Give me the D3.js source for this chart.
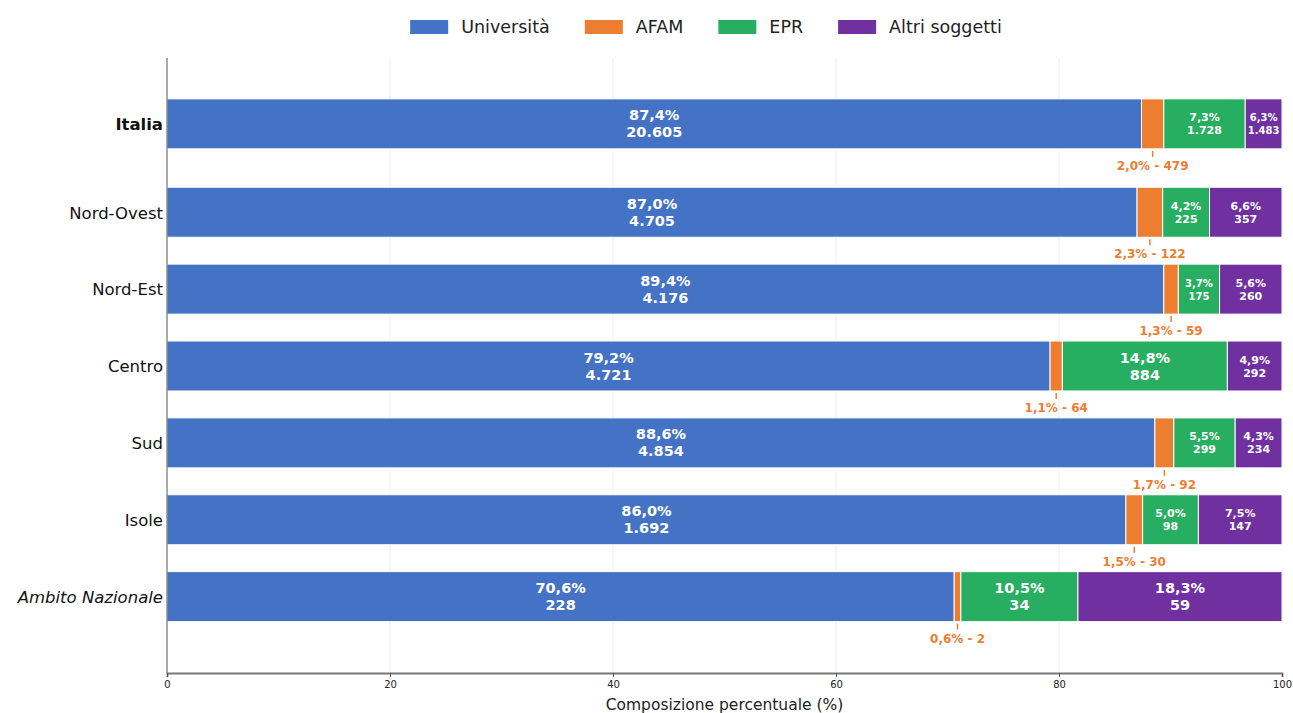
<!DOCTYPE html>
<html><head><meta charset="utf-8">
<script src="https://cdn.jsdelivr.net/npm/d3@7"></script>
<style>body{margin:0;background:#fff} text{font-family:"DejaVu Sans",sans-serif}</style>
</head><body><svg id="c" width="1293" height="713"></svg>
<script>
const categories = ["Italia","Nord-Ovest","Nord-Est","Centro","Sud","Isole","Ambito Nazionale"];
const series = ["Università","AFAM","EPR","Altri soggetti"];
const pctUniversita = [87.4,87.0,89.4,79.2,88.6,86.0,70.6];
const pctAFAM = [2.0,2.3,1.3,1.1,1.7,1.5,0.6];
const pctEPR = [7.3,4.2,3.7,14.8,5.5,5.0,10.5];
const pctAltri = [6.3,6.6,5.6,4.9,4.3,7.5,18.3];
const cntUniversita = ["20.605","4.705","4.176","4.721","4.854","1.692","228"];
const cntAFAM = ["479","122","59","64","92","30","2"];
const cntEPR = ["1.728","225","175","884","299","98","34"];
const cntAltri = ["1.483","357","260","292","234","147","59"];
const xTicks = [0,20,40,60,80,100];
const colors = ["#4472C4","#ED7D31","#27AE60","#7030A0"];

const pcts = [pctUniversita, pctAFAM, pctEPR, pctAltri];
const cnts = [cntUniversita, cntAFAM, cntEPR, cntAltri];
const svg = d3.select("#c");
const L = 167, R = 1282, T = 58, B = 673;
const x = d3.scaleLinear().domain([0,100]).range([L,R]);
const y = d3.scaleLinear().domain([-1,7]).range([T,B]);
const ITALIA_SHIFT = 0.15;
const rowPos = i => i === 0 ? -ITALIA_SHIFT : i;
const barH = 0.65 * (y(1) - y(0));
const fmt = v => d3.format(".1f")(v).replace(".", ",") + "%";

// grid
svg.append("g").selectAll("line").data(xTicks.filter(t => t > 0 && t < 100)).join("line")
  .attr("x1", d => x(d)).attr("x2", d => x(d)).attr("y1", T).attr("y2", B)
  .attr("stroke", "#ebebeb").attr("stroke-width", 0.8);

// segments
const segs = [];
categories.forEach((c, i) => {
  let acc = 0;
  pcts.forEach((arr, s) => {
    const v = arr[i];
    const x0 = Math.min(acc, 100), x1 = Math.min(acc + v, 100);
    segs.push({i, s, v, x0, x1, cnt: cnts[s][i]});
    acc += v;
  });
});

const gBars = svg.append("g");
gBars.selectAll("rect").data(segs).join("rect")
  .attr("x", d => x(d.x0)).attr("width", d => x(d.x1) - x(d.x0))
  .attr("y", d => y(rowPos(d.i)) - barH/2 + 0.5).attr("height", barH)
  .attr("fill", d => colors[d.s]).attr("stroke", "#fff").attr("stroke-width", 1);

// inside labels
const big = d => d.s === 0 || d.v >= 10;
const inside = segs.filter(d => d.s !== 1);
const lab = svg.append("g").selectAll("text").data(inside).join("text")
  .attr("text-anchor", "middle").attr("fill", "#fff").attr("font-weight", "bold")
  .attr("font-size", d => big(d) ? 14.5 : ((d.x1 - d.x0) < 4 ? 10 : 11))
  .attr("transform", d => `translate(${x((d.x0 + d.x1)/2)},${y(rowPos(d.i)) + 0.5})`);
lab.append("tspan").attr("x", 0).attr("dy", d => big(d) ? -3.5 : -2.5).text(d => fmt(d.v));
lab.append("tspan").attr("x", 0).attr("dy", d => big(d) ? 17 : 13).text(d => d.cnt);

// AFAM annotations
const afam = segs.filter(d => d.s === 1);
const ga = svg.append("g");
ga.selectAll("line").data(afam).join("line")
  .attr("x1", d => x((d.x0 + d.x1)/2)).attr("x2", d => x((d.x0 + d.x1)/2))
  .attr("y1", d => y(rowPos(d.i)) + barH/2 + 2.5).attr("y2", d => y(rowPos(d.i)) + barH/2 + 8.5)
  .attr("stroke", colors[1]).attr("stroke-width", 1.5);
ga.selectAll("text").data(afam).join("text")
  .attr("x", d => x((d.x0 + d.x1)/2)).attr("y", d => y(rowPos(d.i)) + barH/2 + 21.5)
  .attr("text-anchor", "middle").attr("fill", colors[1]).attr("font-weight", "bold").attr("font-size", 12)
  .text(d => fmt(d.v) + " - " + d.cnt);

// category labels
svg.append("g").selectAll("text").data(categories).join("text")
  .attr("x", L - 4).attr("y", (d, i) => y(rowPos(i)) + 1).attr("dy", "0.35em")
  .attr("text-anchor", "end").attr("font-size", 16.5).attr("fill", "#111")
  .attr("font-weight", (d, i) => i === 0 ? "bold" : "normal")
  .attr("font-style", (d, i) => i === categories.length - 1 ? "italic" : "normal")
  .text(d => d);

// spines
svg.append("line").attr("x1", L).attr("x2", L).attr("y1", T).attr("y2", B).attr("stroke", "#555").attr("stroke-width", 1);
const xAxis = svg.append("g").attr("transform", `translate(0,${B})`)
  .call(d3.axisBottom(x).tickValues(xTicks).tickSize(4).tickPadding(4).tickFormat(d3.format("d")));
xAxis.select(".domain").attr("stroke", "#777").attr("stroke-width", 1.8);
xAxis.selectAll(".tick line").attr("stroke", "#555");
xAxis.selectAll("text").attr("font-size", 10).attr("fill", "#222").attr("font-family", "DejaVu Sans");
svg.append("text").attr("x", (L + R)/2).attr("y", 710).attr("text-anchor", "middle")
  .attr("font-size", 15.5).attr("fill", "#222").text("Composizione percentuale (%)");

// legend
const lg = svg.append("g");
const items = lg.selectAll("g").data(series).join("g");
items.append("rect").attr("width", 38).attr("height", 14).attr("y", 20).attr("fill", (d, i) => colors[i]);
items.append("text").attr("x", 51).attr("y", 27).attr("dy", "0.35em").attr("font-size", 17.5).attr("fill", "#222").text(d => d);
let cx = 0;
items.each(function() {
  const w = 51 + this.querySelector("text").getComputedTextLength();
  d3.select(this).attr("transform", `translate(${cx},0)`);
  cx += w + 35;
});
const total = cx - 35;
lg.attr("transform", `translate(${706 - total/2},0)`);
</script></body></html>
